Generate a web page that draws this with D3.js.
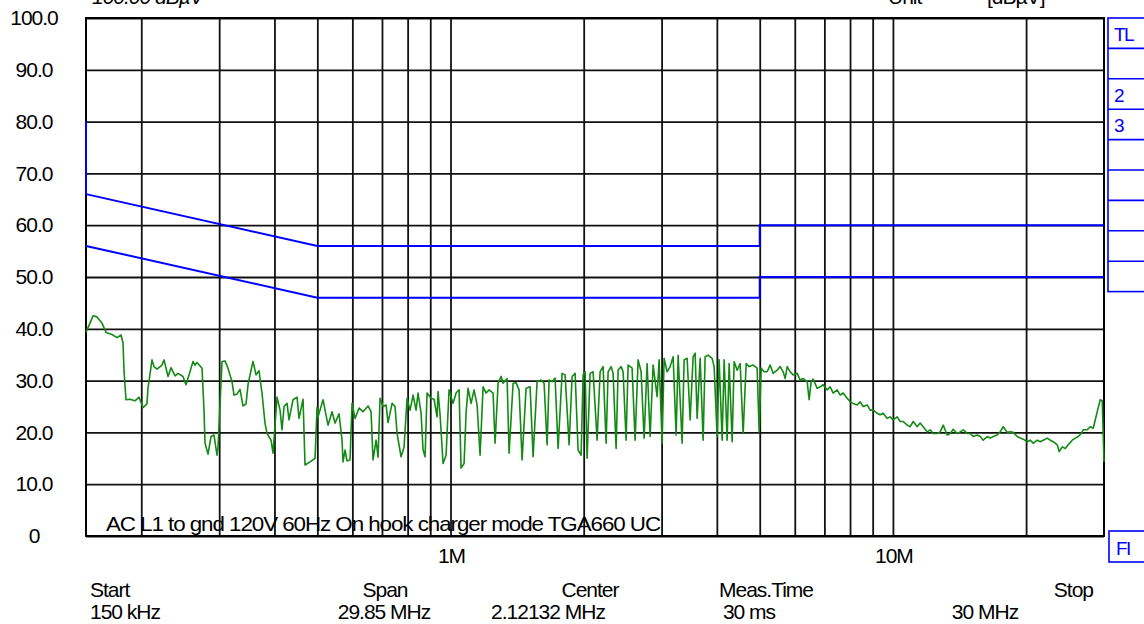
<!DOCTYPE html>
<html>
<head>
<meta charset="utf-8">
<script src="https://cdn.jsdelivr.net/npm/d3@7"></script>
<style>
  html, body { margin: 0; padding: 0; background: #fff; }
  svg { display: block; }
  text { font-family: "Liberation Sans", Arial, sans-serif; }
</style>
</head>
<body>
<svg id="chart" width="1144" height="624"></svg>
<script>
// ---------------- data ----------------
const yTicks = [0, 10, 20, 30, 40, 50, 60, 70, 80, 90, 100];
const yTickLabels = ["0", "10.0", "20.0", "30.0", "40.0", "50.0", "60.0", "70.0", "80.0", "90.0", "100.0"];
const gridFreqs = [200, 300, 400, 500, 600, 700, 800, 900, 1000, 2000, 3000, 4000, 5000, 6000, 7000, 8000, 9000, 10000, 20000];
const xLabelFreqs = [1000, 10000];
const xLabelTexts = ["1M", "10M"];
const infoLabels = ["Start", "Span", "Center", "Meas.Time", "Stop"];
const infoValues = ["150 kHz", "29.85 MHz", "2.12132 MHz", "30 ms", "30 MHz"];
const annotation = "AC L1 to gnd 120V 60Hz On hook charger mode TGA660 UC";
const headerLeft = "100.00 dBµV";
const headerUnit = ["Unit", "[dBµV]"];
const panelLabels = ["TL", "", "2", "3", "", "", "", "", ""];

// limit lines [kHz, dBµV]
const limitStart = [[150, 80], [150, 66]];
const limitUpper = [[150, 66], [500, 56], [5000, 56], [5000, 60], [30000, 60]];
const limitLower = [[150, 56], [500, 46], [5000, 46], [5000, 50], [30000, 50]];

// measured trace [kHz, dBµV]
const trace = [
 [150,39.3],[155.6,42.5],[158.8,42.3],[163.0,41.1],[166.5,39.3],[171.7,38.9],[176.3,38.3],[180.0,38.8],[181.9,37.2],[182.8,32],
 [184.7,26.3],[188.6,26.4],[193.6,26.1],[197.7,26.8],[201.8,24.8],[206.0,25.5],[207.1,28.5],[211.5,34],[213.7,32.7],[217.1,32.2],
 [222.8,33],[225.1,34],[229.9,30.8],[233.5,32.5],[238.4,30.9],[242.1,31.4],[248.5,30.8],[252.4,29.2],[257.7,31.7],[261.8,33.7],
 [264.5,33],[267.3,33.5],[274.4,32.4],[277.2,24.3],[278.7,17.9],[283.1,15.8],[287.5,19.2],[292.0,19.5],[296.6,15.6],[298.2,17.2],
 [304.5,33.7],[309.3,33.8],[314.1,32.4],[320.7,29.8],[324.1,27.2],[329.2,27.4],[334.4,28.3],[339.6,25.1],[345.0,25.5],[348.6,29.2],
 [354.1,32],[357.8,33.7],[363.4,31.1],[369.1,31.9],[374.9,27.6],[380.8,21.8],[384.8,19.8],[392.9,18.5],[397.0,16],[405.4,26.8],
 [411.8,24.3],[416.1,20.5],[420.4,25],[427.1,25.6],[431.5,22.4],[440.6,26.3],[449.9,26.8],[454.6,22.7],[464.2,26.4],[469.0,13.7],
 [481.4,14.3],[494.1,15],[499.3,24.8],[501.9,23],[515.1,26.3],[520.5,24.3],[528.7,21.4],[539.8,24],[548.3,21.8],[559.8,23.6],
 [568.6,18.5],[571.6,14.3],[577.6,16.6],[583.6,14.5],[592.8,14.7],[599.0,25.6],[608.5,22.7],[621.3,24.7],[634.3,24],[651.1,25.1],
 [661.3,24],[668.2,14.7],[678.8,18.5],[685.9,15.2],[693.0,26.6],[703.9,25],[715.0,25.3],[722.5,21.9],[737.7,25.6],[749.3,25],
 [757.2,19.8],[773.1,15.3],[785.3,17.2],[797.6,26.6],[810.2,24.3],[822.9,27.2],[835.9,24.3],[844.6,27.6],[857.9,23.7],[866.9,16.6],
 [876.0,15.3],[885.1,27.6],[903.8,26.6],[918.0,26.4],[932.4,23],[937.3,27.9],[947.1,23.4],[962.0,14],[977.2,15.6],[992.5,28.2],
 [1013.4,25.6],[1029.4,27.6],[1045.6,28.2],[1056.5,13.1],[1073.2,14],[1084.4,23.7],[1095.7,28.5],[1113.0,25.6],[1130.5,28.2],[1148.4,25.3],
 [1166.4,15.6],[1184.8,28.8],[1203.4,27.6],[1222.3,28.2],[1248.0,27.6],[1261.1,17.9],[1281.0,29.5],[1301.1,30.8],[1314.7,29.5],[1342.5,30.4],
 [1356.5,16],[1385.1,29.5],[1406.8,29.6],[1428.9,28.2],[1451.4,14.7],[1482.0,28.5],[1513.2,28.8],[1537.0,15.3],[1569.3,29.8],[1602.4,30.1],
 [1627.6,29.5],[1653.2,17.6],[1670.5,30.1],[1696.8,29.8],[1723.5,30.5],[1750.6,16.9],[1787.4,31.4],[1815.6,31.1],[1853.8,17.6],[1883.0,30.8],
 [1912.6,31.4],[1942.7,16.6],[1973.3,15.6],[1993.9,31.1],[2014.8,31.7],[2036.0,15],[2068.0,31.4],[2100.5,31.7],[2144.7,18.5],[2178.5,31.7],
 [2212.7,32.7],[2247.6,17.9],[2271.1,31.7],[2306.9,32.7],[2331.0,31.4],[2367.7,16.9],[2392.5,32],[2430.1,32.7],[2455.5,31.7],[2494.2,18.5],
 [2520.3,33],[2573.3,32.4],[2613.8,18.5],[2655.0,34],[2696.8,31.7],[2739.2,18.9],[2782.3,33.3],[2826.1,19.2],[2870.6,33],[2931.0,26.9],
 [2961.7,34],[3008.3,17.9],[3039.8,34.3],[3087.6,31.7],[3136.2,32.7],[3185.6,34.6],[3235.8,19.5],[3269.6,34.9],[3338.4,17.9],[3373.4,34],
 [3426.5,34.3],[3480.4,22.4],[3535.2,34.6],[3572.2,35.3],[3609.6,22.7],[3666.5,34.3],[3724.1,18.5],[3763.1,34.6],[3822.4,34.9],[3902.8,34.3],
 [3943.6,32.7],[4005.7,19.2],[4047.6,34],[4111.3,18.5],[4154.3,34],[4219.8,18.5],[4263.9,33.3],[4331.0,18.2],[4376.4,33.7],[4445.3,32],
 [4515.2,33.3],[4586.3,19.8],[4658.5,33.3],[4731.8,32.7],[4831.3,33],[4933.1,32.4],[4984.7,20.1],[5036.9,32.4],[5116.2,31.7],[5196.7,31.7],
 [5278.5,33],[5361.5,31.4],[5474.4,32],[5560.6,32.7],[5648.0,31.7],[5707.2,30.4],[5767.0,32.7],[5857.7,31.7],[5949.8,31.1],[6075.2,31.4],
 [6170.8,30.1],[6267.8,30.4],[6399.7,29.8],[6466.6,26.3],[6534.4,29.8],[6602.8,30.3],[6741.7,28.5],[6847.8,28.8],[6955.5,29.2],[7102.0,28.2],
 [7213.7,28.8],[7327.2,27.6],[7481.6,28.2],[7599.3,27.2],[7718.8,27.6],[7881.3,26.6],[8005.4,25.9],[8131.3,25.6],[8302.5,25.3],[8433.2,25.9],
 [8565.8,25],[8746.2,25.3],[8883.9,24.3],[9023.6,24.3],[9213.5,23.7],[9358.5,23.4],[9505.7,23.7],[9705.9,22.7],[9858.7,23],[10014,22.4],
 [10224,23],[10385,22.1],[10548,22.1],[10771,21.4],[10940,21.1],[11113,22.1],[11346,21.1],[11524,21.8],[11706,21.1],[11953,20.1],
 [12141,20.5],[12332,19.8],[12591,19.8],[12790,20.1],[12991,21.4],[13265,19.5],[13474,19.8],[13686,20.6],[13974,19.8],[14193,20.1],
 [14417,20.5],[14720,19.8],[14952,19.8],[15187,19.2],[15507,19.5],[15751,19.2],[15998,18.5],[16336,19.2],[16593,18.9],[16854,19.2],
 [17208,19.5],[17479,20.1],[17754,21.1],[18128,20],[18413,20.1],[18703,20],[19097,19.2],[19398,18.9],[19703,18.7],[20117,18.2],
 [20434,18.5],[20755,17.9],[21192,18.5],[21526,18.2],[21864,18.5],[22325,18.9],[22676,18.5],[23033,18.2],[23518,17.6],[23764,16.3],
 [24138,17.2],[24518,16.9],[24904,17.6],[25428,18.5],[25828,18.9],[26235,19.2],[26648,19.8],[26926,20.5],[27494,20.5],[27926,21.1],
 [28366,20.8],[28663,22.4],[28962,24],[29418,26.3],[29726,26.1],[30000,14.3]
];

// ---------------- drawing ----------------
const svg = d3.select("#chart");
svg.append("rect").attr("width", 1144).attr("height", 624).attr("fill", "#fff");

const plotLeft = 86, plotRight = 1104, plotTop = 18, plotBottom = 536;
const x = d3.scaleLog().domain([150, 30000]).range([plotLeft, plotRight]);
const y = d3.scaleLinear().domain([0, 100]).range([plotBottom, plotTop]);

const FONT = 21;
const textStyle = sel => sel.attr("font-size", FONT).attr("letter-spacing", "-1px").attr("fill", "#000");

// vertical grid via axis
const gx = svg.append("g").attr("transform", `translate(0,${plotBottom})`)
  .call(d3.axisBottom(x).tickValues(gridFreqs).tickSize(-(plotBottom - plotTop)).tickFormat(""));
gx.select(".domain").remove();
gx.selectAll(".tick line").attr("stroke", "#111").attr("stroke-width", 1.8);

// horizontal grid + labels via axis
const gy = svg.append("g").attr("transform", `translate(${plotLeft},0)`)
  .call(d3.axisLeft(y).tickValues(yTicks).tickSize(-(plotRight - plotLeft)).tickFormat((d, i) => yTickLabels[i]));
gy.select(".domain").remove();
gy.selectAll(".tick line").attr("stroke", "#111").attr("stroke-width", 1.8);
gy.selectAll(".tick text")
  .attr("x", 34 - plotLeft).attr("text-anchor", "middle")
  .attr("font-family", "Liberation Sans, Arial, sans-serif")
  .call(textStyle);

// plot frame
svg.append("rect").attr("x", plotLeft).attr("y", plotTop).attr("width", plotRight - plotLeft).attr("height", plotBottom - plotTop)
  .attr("fill", "none").attr("stroke", "#000").attr("stroke-width", 2);

// x labels
svg.selectAll("text.xl").data(xLabelFreqs).enter().append("text")
  .attr("class", "xl")
  .attr("x", d => x(d) + 1).attr("y", 563).attr("text-anchor", "middle")
  .text((d, i) => xLabelTexts[i]).call(textStyle);

// annotation
svg.append("text").attr("x", 106).attr("y", 531).attr("textLength", 554)
  .attr("lengthAdjust", "spacingAndGlyphs").text(annotation).call(textStyle);

// limit lines
const line = d3.line().x(d => x(d[0])).y(d => y(d[1]));
[limitStart, limitUpper, limitLower].forEach(ld => {
  svg.append("path").attr("d", line(ld)).attr("fill", "none")
    .attr("stroke", "#0000ff").attr("stroke-width", 2);
});

// trace
svg.append("path").attr("d", line(trace)).attr("fill", "none")
  .attr("stroke", "#138a13").attr("stroke-width", 1.6).attr("stroke-linejoin", "round");

// bottom info rows
const infoPos = [
  {x: 90, a: "start"}, {x: 385, a: "middle"}, {x: 590, a: "middle"}, {x: 766, a: "middle"}, {x: 1093, a: "end"}
];
const valPos = [
  {x: 90, a: "start"}, {x: 384, a: "middle"}, {x: 548, a: "middle"}, {x: 749, a: "middle"}, {x: 985, a: "middle"}
];
svg.selectAll("text.il").data(infoLabels).enter().append("text").attr("class", "il")
  .attr("x", (d, i) => infoPos[i].x).attr("y", 597).attr("text-anchor", (d, i) => infoPos[i].a)
  .text(d => d).call(textStyle);
svg.selectAll("text.iv").data(infoValues).enter().append("text").attr("class", "iv")
  .attr("x", (d, i) => valPos[i].x).attr("y", 619).attr("text-anchor", (d, i) => valPos[i].a)
  .text(d => d).call(textStyle);

// header (clipped at top edge)
svg.append("text").attr("x", 92).attr("y", 4).text(headerLeft).call(textStyle).attr("font-style", "italic");
svg.append("text").attr("x", 888).attr("y", 4).text(headerUnit[0]).call(textStyle);
svg.append("text").attr("x", 987).attr("y", 4).text(headerUnit[1]).call(textStyle);

// right-hand blue panel
const panel = svg.append("g");
const rowH = 30.4;
panel.append("rect").attr("x", 1108).attr("y", plotTop).attr("width", 50).attr("height", rowH * panelLabels.length)
  .attr("fill", "none").attr("stroke", "#0000ff").attr("stroke-width", 1.6);
panelLabels.forEach((lab, i) => {
  if (i > 0) panel.append("line").attr("x1", 1108).attr("x2", 1144)
    .attr("y1", plotTop + rowH * i).attr("y2", plotTop + rowH * i)
    .attr("stroke", "#0000ff").attr("stroke-width", 1.6);
  if (lab) panel.append("text").attr("x", 1114).attr("y", plotTop + rowH * i + 23)
    .attr("font-size", 19).attr("letter-spacing", "-1.5px").attr("fill", "#0000ff").text(lab);
});
panel.append("rect").attr("x", 1109).attr("y", 531).attr("width", 50).attr("height", 31)
  .attr("fill", "none").attr("stroke", "#0000ff").attr("stroke-width", 1.6);
panel.append("text").attr("x", 1116).attr("y", 555).attr("font-size", 19).attr("letter-spacing", "-1.5px")
  .attr("fill", "#0000ff").text("FI");
</script>
</body>
</html>
